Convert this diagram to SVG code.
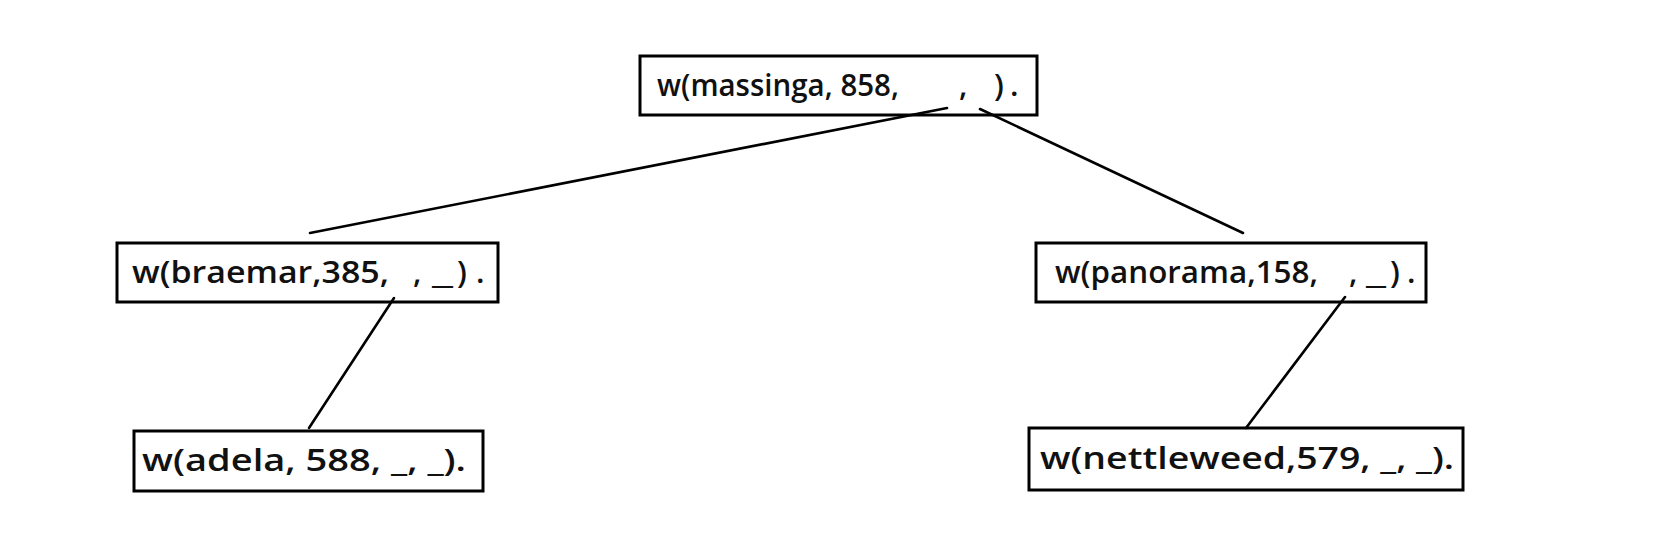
<svg xmlns="http://www.w3.org/2000/svg" width="1670" height="558" viewBox="0 0 1670 558">
<style>
.box{fill:#fff;stroke:#000;stroke-width:3}
.lbl{font-family:"Open Sans","Liberation Sans",sans-serif;font-size:31px;font-weight:600;fill:#111}
.edge{stroke:#000;stroke-width:2.6;fill:none;stroke-linecap:round}
</style>
<rect width="1670" height="558" fill="#fff"/>
<g id="n-massinga">
<rect class="box" x="640" y="56" width="397" height="59"/>
<text class="lbl" y="96"><tspan x="657" textLength="242" lengthAdjust="spacingAndGlyphs">w(massinga, 858,</tspan><tspan x="959">,</tspan><tspan x="994">)</tspan><tspan x="1010">.</tspan></text>
</g>
<g id="n-braemar">
<rect class="box" x="117" y="243" width="381" height="59"/>
<text class="lbl" y="283"><tspan x="132" textLength="257" lengthAdjust="spacingAndGlyphs">w(braemar,385,</tspan><tspan x="413">,</tspan><tspan x="432" textLength="21" lengthAdjust="spacingAndGlyphs">_</tspan><tspan x="457">)</tspan><tspan x="476">.</tspan></text>
</g>
<g id="n-panorama">
<rect class="box" x="1036" y="243" width="390" height="59"/>
<text class="lbl" y="283"><tspan x="1055" textLength="263" lengthAdjust="spacingAndGlyphs">w(panorama,158,</tspan><tspan x="1349">,</tspan><tspan x="1366" textLength="20" lengthAdjust="spacingAndGlyphs">_</tspan><tspan x="1390">)</tspan><tspan x="1407">.</tspan></text>
</g>
<g id="n-adela">
<rect class="box" x="134" y="431" width="349" height="60"/>
<text class="lbl" y="471" x="142" textLength="324" lengthAdjust="spacingAndGlyphs">w(adela, 588, _, _).</text>
</g>
<g id="n-nettleweed">
<rect class="box" x="1029" y="428" width="434" height="62"/>
<text class="lbl" y="469" x="1040" textLength="414" lengthAdjust="spacingAndGlyphs">w(nettleweed,579, _, _).</text>
</g>
<g id="connectors">
<line class="edge" x1="947" y1="108" x2="310" y2="233"/>
<line class="edge" x1="980" y1="109" x2="1243" y2="233"/>
<line class="edge" x1="394" y1="298" x2="309" y2="428"/>
<line class="edge" x1="1345" y1="297" x2="1246" y2="428"/>
</g>
</svg>
